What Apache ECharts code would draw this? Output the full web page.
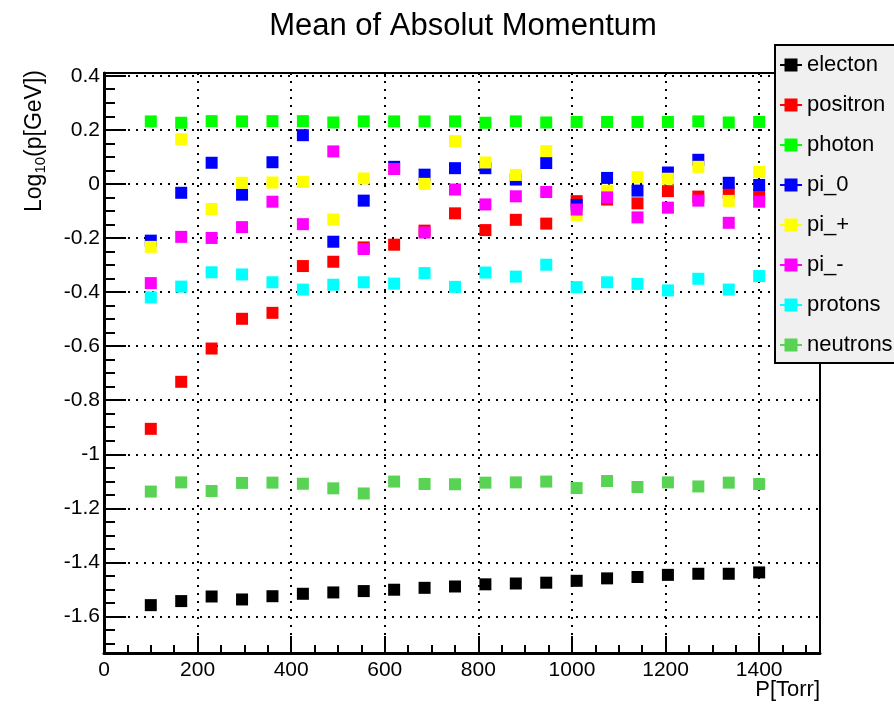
<!DOCTYPE html>
<html>
<head>
<meta charset="utf-8">
<script src="https://cdn.jsdelivr.net/npm/echarts@6/dist/echarts.min.js"></script>
<style>
html,body{margin:0;padding:0;background:#fff;}
#chart{width:894px;height:706px;}
</style>
</head>
<body>
<div id="chart"></div>
<script>
// ---- data ----
const pressure = [100,165,230,295,360,425,490,555,620,685,750,815,880,945,1010,1075,1140,1205,1270,1335,1400];
const electon  = [-1.558,-1.543,-1.526,-1.537,-1.525,-1.516,-1.511,-1.506,-1.501,-1.494,-1.489,-1.481,-1.478,-1.475,-1.468,-1.459,-1.454,-1.446,-1.442,-1.442,-1.437];
const positron = [-0.906,-0.732,-0.609,-0.499,-0.477,-0.304,-0.288,-0.235,-0.225,-0.173,-0.109,-0.171,-0.133,-0.147,-0.064,-0.058,-0.072,-0.027,-0.047,-0.033,-0.040];
const photon   = [0.231,0.226,0.232,0.231,0.232,0.232,0.227,0.231,0.231,0.231,0.231,0.226,0.231,0.227,0.229,0.229,0.229,0.229,0.231,0.227,0.229];
const pi0      = [-0.210,-0.033,0.078,-0.040,0.080,0.180,-0.214,-0.062,0.063,0.034,0.058,0.058,0.016,0.077,-0.078,0.022,-0.025,0.042,0.089,0.004,-0.004];
const piPlus   = [-0.233,0.165,-0.093,0.004,0.005,0.007,-0.132,0.020,0.055,0.000,0.158,0.079,0.033,0.121,-0.115,-0.025,0.025,0.019,0.063,-0.063,0.044];
const piMinus  = [-0.367,-0.196,-0.200,-0.160,-0.066,-0.149,0.120,-0.241,0.055,-0.180,-0.021,-0.076,-0.046,-0.030,-0.095,-0.050,-0.124,-0.088,-0.062,-0.144,-0.066];
const protons  = [-0.420,-0.380,-0.327,-0.335,-0.364,-0.391,-0.373,-0.364,-0.369,-0.330,-0.381,-0.328,-0.343,-0.299,-0.382,-0.364,-0.370,-0.394,-0.351,-0.391,-0.341];
const neutrons = [-1.138,-1.104,-1.136,-1.106,-1.105,-1.109,-1.126,-1.145,-1.101,-1.110,-1.111,-1.105,-1.104,-1.101,-1.125,-1.099,-1.121,-1.104,-1.119,-1.105,-1.110];

const seriesNames = ['electon','positron','photon','pi_0','pi_+','pi_-','protons','neutrons'];
const seriesColors = ['#000000','#ff0000','#00ff00','#0000ff','#ffff00','#ff00ff','#00ffff','#59d354'];
const seriesValues = [electon, positron, photon, pi0, piPlus, piMinus, protons, neutrons];

const titleText = 'Mean of Absolut Momentum';
const xTitle = 'P[Torr]';

// ---- chart ----
const FONT = '"Liberation Sans", Arial, Helvetica, sans-serif';
const chart = echarts.init(document.getElementById('chart'), null, {renderer: 'canvas'});

const dotted = {color: '#000', width: 2, type: [2, 6]};

function isMult(v, step) {
  const r = v / step;
  return Math.abs(r - Math.round(r)) < 1e-6;
}

function tickAxis(min, max, splitNumber, position, len) {
  return {
    type: 'value', min: min, max: max, splitNumber: splitNumber, position: position, offset: 0,
    axisLine: {show: false, onZero: false},
    axisTick: {show: true, inside: true, length: len, lineStyle: {color: '#000', width: 2}},
    axisLabel: {show: false},
    splitLine: {show: false},
    z: 3
  };
}

const legendIcon = 'path://M0,5.5 H4.5 V0 H17.5 V5.5 H22 V7.5 H17.5 V13 H4.5 V7.5 H0 Z';

const option = {
  animation: false,
  backgroundColor: '#ffffff',
  textStyle: {fontFamily: FONT},
  grid: {
    left: 104, top: 73, width: 716, height: 580,
    show: true, borderColor: '#000', borderWidth: 2, backgroundColor: 'transparent'
  },
  xAxis: [{
    type: 'value', min: 0, max: 1530, splitNumber: 7, position: 'bottom',
    axisLine: {show: true, onZero: false, lineStyle: {color: '#000', width: 3}},
    axisTick: {show: true, inside: true, length: 17, lineStyle: {color: '#000', width: 2}},
    axisLabel: {
      show: true, color: '#000', fontSize: 21, fontFamily: FONT, margin: 7,
      formatter: v => isMult(v, 200) ? String(Math.round(v)) : ''
    },
    splitLine: {show: true, lineStyle: dotted},
    z: 3
  },
  tickAxis(0, 1530, 7, 'bottom', 17),
  tickAxis(0, 1530, 31, 'bottom', 8)
  ],
  yAxis: [{
    type: 'value', min: -1.735, max: 0.41, splitNumber: 10, position: 'left',
    axisLine: {show: true, onZero: false, lineStyle: {color: '#000', width: 3}},
    axisTick: {show: true, inside: true, length: 22, lineStyle: {color: '#000', width: 2}},
    axisLabel: {
      show: true, color: '#000', fontSize: 21, fontFamily: FONT, margin: 4,
      formatter: v => isMult(v, 0.2) ? String(Math.round(v * 10) / 10) : ''
    },
    splitLine: {show: true, lineStyle: dotted},
    z: 3
  },
  tickAxis(-1.735, 0.41, 10, 'left', 22),
  tickAxis(-1.735, 0.41, 43, 'left', 11)
  ],
  legend: {
    show: true, orient: 'vertical', left: 775, top: 45, z: 20,
    padding: [9, 60, 7, 5], itemGap: 18,
    itemWidth: 22, itemHeight: 13,
    backgroundColor: '#f0f0f0', borderColor: '#000', borderWidth: 2,
    textStyle: {color: '#000', fontSize: 22, fontFamily: FONT, lineHeight: 22},
    icon: legendIcon,
    data: seriesNames
  },
  graphic: [
    {type: 'text', x: 463, y: 26, style: {text: titleText, font: '31px ' + FONT, fill: '#000', align: 'center', verticalAlign: 'middle'}},
    {type: 'text', x: 820, y: 690, style: {text: xTitle, font: '22px ' + FONT, fill: '#000', align: 'right', verticalAlign: 'middle'}},
    {type: 'text', x: 35, y: 70, rotation: Math.PI / 2,
      style: {
        text: '{a|Log}{s|10}{a|(p[GeV])}', fill: '#000', align: 'right', verticalAlign: 'middle',
        rich: {
          a: {fontSize: 23, fontFamily: FONT, fill: '#000', lineHeight: 26, verticalAlign: 'middle'},
          s: {fontSize: 15, fontFamily: FONT, fill: '#000', lineHeight: 26, verticalAlign: 'bottom', padding: [8, 0, 0, 0]}
        }
      }}
  ],
  series: seriesNames.map((name, k) => ({
    name: name,
    type: 'scatter',
    symbol: 'rect',
    symbolSize: 12,
    z: 4,
    itemStyle: {color: seriesColors[k], opacity: 1},
    emphasis: {disabled: true},
    data: pressure.map((p, i) => [p, seriesValues[k][i]])
  }))
};

chart.setOption(option);
</script>
</body>
</html>
